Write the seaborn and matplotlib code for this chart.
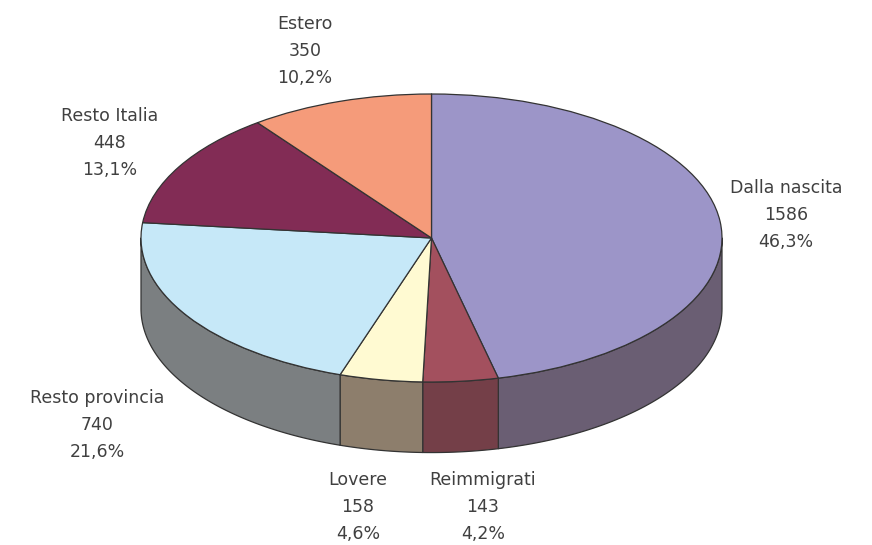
import numpy as np
import matplotlib
matplotlib.use("Agg")
import matplotlib.pyplot as plt
from matplotlib.patches import Wedge, Polygon
import seaborn as sns

categories = ["Dalla nascita", "Reimmigrati", "Lovere", "Resto provincia", "Resto Italia", "Estero"]
values = [1586, 143, 158, 740, 448, 350]
top_colors = ["#9C95C8", "#A3505E", "#FFFAD2", "#C6E8F8", "#822C55", "#F59B7A"]
side_colors = ["#6A5E73", "#743F48", "#8D7E6C", "#7B7F81", "#5E2140", "#B0715A"]

sns.set_theme(style="white")
plt.rcParams["font.family"] = ["DejaVu Sans"]

W, H = 872, 545
fig = plt.figure(figsize=(W / 100, H / 100), dpi=100)
ax = fig.add_axes([0, 0, 1, 1])

# pie geometry in pixels
cx, cy = 431.5, 238.0
rx, ry = 290.5, 144.0
depth = 0.49  # in units of vertical radius

ax.set_xlim(-cx / rx, (W - cx) / rx)
ax.set_ylim(-(H - cy) / ry, cy / ry)
ax.axis("off")

total = sum(values)
fracs = [v / total for v in values]

# slices run clockwise starting at 12 o'clock
starts, ends = [], []
a = 90.0
for f in fracs:
    starts.append(a)
    ends.append(a - 360.0 * f)
    a -= 360.0 * f

edge_kw = dict(edgecolor="#333333", linewidth=0.9, joinstyle="round")

# front walls (only the part of each slice facing the viewer)
for s, e, col in zip(starts, ends, side_colors):
    hi = min(s, 0.0)
    lo = max(e, -180.0)
    if hi <= lo:
        continue
    th = np.radians(np.linspace(hi, lo, 80))
    xs, ys = np.cos(th), np.sin(th)
    pts = np.vstack([np.column_stack([xs, ys]),
                     np.column_stack([xs[::-1], ys[::-1] - depth])])
    ax.add_patch(Polygon(pts, closed=True, facecolor=col, **edge_kw))

# top face
for s, e, col in zip(starts, ends, top_colors):
    ax.add_patch(Wedge((0, 0), 1.0, e, s, facecolor=col, **edge_kw))

# labels
label_pos = [(786, 215), (483, 507), (358, 507), (97, 425), (110, 143), (305, 51)]
for name, v, f, (px, py) in zip(categories, values, fracs, label_pos):
    pct = f"{f * 100:.1f}".replace(".", ",") + "%"
    ax.text((px - cx) / rx, (cy - py) / ry, f"{name}\n{v}\n{pct}",
            ha="center", va="center", fontsize=12.5, color="#404040",
            linespacing=1.62)

fig.savefig("out.png", dpi=100)
